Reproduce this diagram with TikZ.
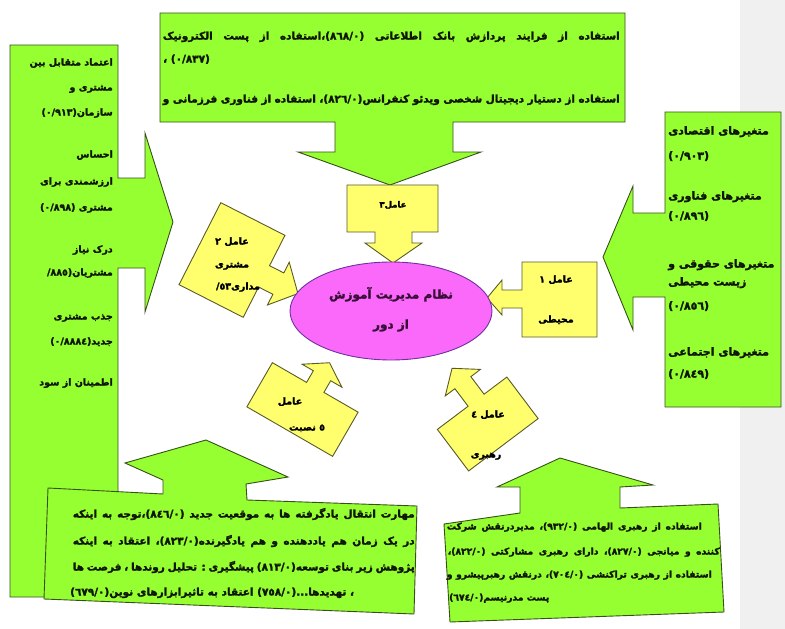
\documentclass[tikz,border=0pt]{standalone}
\usepackage{fontspec}
\usetikzlibrary{shapes.geometric}
\TeXXeTstate=1
\newfontfamily\fa[Script=Arabic,BoldFeatures={FakeBold=2}]{DejaVu Sans}
\newcommand\myR[1]{\beginR#1\endR}
\newcommand\myL[1]{\beginL#1\endL{}}
\definecolor{gfill}{RGB}{150,255,50}
\definecolor{gline}{RGB}{55,80,25}
\definecolor{yfill}{RGB}{255,255,110}
\definecolor{yline}{RGB}{90,90,40}
\definecolor{efill}{RGB}{250,105,250}
\definecolor{eline}{RGB}{112,48,160}
\definecolor{gtext}{RGB}{15,22,5}
\begin{document}
\begin{tikzpicture}[x=1pt,y=-1pt,
  gshape/.style={fill=gfill,draw=gline,line width=0.9pt,line join=miter},
  yshape/.style={fill=yfill,draw=yline,line width=0.9pt},
  ln/.style={inner sep=0pt,text height=8pt,text depth=3pt,text=gtext,font=\fa\bfseries\fontsize{9.5}{11}\selectfont},
  lnt/.style={ln,font=\fa\bfseries\fontsize{10.5}{13}\selectfont},
  lnr/.style={ln,font=\fa\bfseries\fontsize{11}{13}\selectfont},
  lnb/.style={ln,font=\fa\bfseries\fontsize{10.5}{12}\selectfont},
  lnc/.style={ln,font=\fa\bfseries\fontsize{9.2}{11}\selectfont},
  yl/.style={ln,text=black,font=\fa\bfseries\fontsize{9.5}{11}\selectfont},
  el/.style={yl,font=\fa\bfseries\fontsize{12}{14}\selectfont,text={rgb,255:red,55;green,15;blue,55}}]
\useasboundingbox (0,0) rectangle (785,629);
\fill[white] (0,0) rectangle (785,629);
\fill[black!6] (740,0) rectangle (785,629);

% top callout
\draw[gshape] (160,13) -- (625,13) -- (625,122) -- (453,122) -- (453,152) -- (481,152) -- (390,185) -- (298,152) -- (335,152) -- (335,122) -- (160,122) -- cycle;
% left callout
\draw[gshape] (10,45) -- (118,45) -- (118,178) -- (145,178) -- (145,133) -- (173,222) -- (145,312) -- (145,268) -- (118,268) -- (118,597) -- (10,597) -- cycle;
% right callout
\draw[gshape] (665,112) -- (781,112) -- (781,407) -- (665,407) -- (665,297) -- (633,297) -- (633,330) -- (603,257) -- (633,186) -- (633,213) -- (665,213) -- cycle;
% bottom-left callout
\draw[gshape] (48,488) -- (163,494) -- (163,480) -- (125,463) -- (206,440) -- (288,477) -- (246,484) -- (247,500) -- (417,506) -- (414,614) -- (44,599) -- cycle;
% bottom-right callout
\draw[gshape] (444,524) -- (520,513) -- (520,487) -- (497,487) -- (560,458) -- (653,485) -- (620,487) -- (620,508) -- (718,504) -- (724,612) -- (450,622) -- cycle;

% yellow boxes
\draw[yshape] (347,185) -- (438,185) -- (438,232) -- (412,232) -- (412,243) -- (422,243) -- (393,263) -- (365,243) -- (375,243) -- (375,232) -- (347,232) -- cycle;
\draw[yshape] (522,262) -- (597,262) -- (597,337) -- (522,337) -- (522,308) -- (502,308) -- (502,315) -- (487,298) -- (502,280) -- (502,290) -- (522,290) -- cycle;
\begin{scope}[shift={(232,260)},rotate=-27]
\draw[yshape] (-36,-46) -- (36,-46) -- (36,-12) -- (52,-12) -- (52,-24) -- (74,0) -- (52,24) -- (52,12) -- (36,12) -- (36,46) -- (-36,46) -- cycle;
\end{scope}
\begin{scope}[shift={(302.5,409.5)},rotate=-30]
\draw[yshape] (-49.5,-25.5) -- (-10,-25.5) -- (-10,-39) -- (-23,-39) -- (0,-54) -- (23,-39) -- (10,-39) -- (10,-25.5) -- (49.5,-25.5) -- (49.5,25.5) -- (-49.5,25.5) -- cycle;
\end{scope}
\begin{scope}[shift={(487.75,424)},rotate=37]
\draw[yshape] (-43.5,-26) -- (-5,-26) -- (-5,-48) -- (-17,-48) -- (5,-66) -- (27,-48) -- (15,-48) -- (15,-26) -- (43.5,-26) -- (43.5,26) -- (-43.5,26) -- cycle;
\end{scope}

% ellipse
\node[ellipse,draw=eline,fill=efill,line width=0.9pt,minimum width=202pt,minimum height=98pt,inner sep=0pt] (sys) at (391,311) {};
\node[el] (s1) at (391,296) {\myR{نظام مدیریت آموزش}};
\node[el] (s2) at (391,326) {\myR{از دور}};

% yellow texts
\node[yl,font=\fa\bfseries\fontsize{8.5}{10}\selectfont] (f3) at (393,205) {\myR{عامل٣}};
\node[yl] (f1a) at (556,280) {\myR{عامل ١}};
\node[yl] (f1b) at (556,320) {\myR{محیطی}};
\node[yl] (f2a) at (232,242) {\myR{عامل ٢}};
\node[yl] (f2b) at (232,265) {\myR{مشتری}};
\node[yl] (f2c) at (238,287) {\myR{مداری٥٣/}};
\node[yl] (f5a) at (290,402) {\myR{عامل}};
\node[yl] (f5b) at (307,428) {\myR{٥ نصبت}};
\node[yl] (f4a) at (488,415) {\myR{عامل ٤}};
\node[yl] (f4b) at (486,455) {\myR{رهبری}};

% top text
\node[lnt,anchor=east] (t1) at (620,37) {\makebox[457pt][s]{\myR{استفاده از فرایند پردازش بانک اطلاعاتی \myL{(٨٦٨/٠)}،استفاده از پست الکترونیک}}};
\node[lnt,anchor=west] (t2) at (163,60) {\myR{\myL{(٠/٨٣٧)} ،}};
\node[lnt,anchor=east] (t3) at (620,100) {\makebox[457pt][s]{\myR{استفاده از دستیار دیجیتال شخصی ویدئو کنفرانس\myL{(٨٢٦/٠)}، استفاده از فناوری فرزمانی و}}};

% left text
\node[ln,anchor=east] (l1) at (113,63) {\myR{اعتماد متقابل بین}};
\node[ln,anchor=east] (l2) at (113,88) {\myR{مشتری و}};
\node[ln,anchor=east] (l3) at (113,113) {\myR{سازمان\myL{(٠/٩١٣)}}};
\node[ln,anchor=east] (l4) at (113,155) {\myR{احساس}};
\node[ln,anchor=east] (l5) at (113,182) {\myR{ارزشمندی برای}};
\node[ln,anchor=east] (l6) at (113,208) {\myR{مشتری \myL{(٠/٨٩٨)}}};
\node[ln,anchor=east] (l7) at (113,250) {\myR{درک نیاز}};
\node[ln,anchor=east] (l8) at (113,273) {\myR{مشتریان\myL{(٨٨٥/}}};
\node[ln,anchor=east] (l9) at (113,317) {\myR{جذب مشتری}};
\node[ln,anchor=east] (l10) at (113,342) {\myR{جدید\myL{(٠/٨٨٨٤)}}};
\node[ln,anchor=east] (l11) at (113,383) {\myR{اطمینان از سود}};

% right text
\node[lnr,anchor=west] (r1) at (668,132) {\myR{متغیرهای اقتصادی}};
\node[lnr,anchor=west] (r2) at (668,157) {\myL{(٠/٩٠٣)}};
\node[lnr,anchor=west] (r3) at (668,197) {\myR{متغیرهای  فناوری}};
\node[lnr,anchor=west] (r4) at (668,217) {\myL{(٠/٨٩٦)}};
\node[lnr,anchor=west] (r5) at (668,265) {\myR{متغیرهای حقوقی و}};
\node[lnr,anchor=west] (r6) at (668,283) {\myR{زیست محیطی}};
\node[lnr,anchor=west] (r7) at (668,307) {\myL{(٠/٨٥٦)}};
\node[lnr,anchor=west] (r8) at (668,353) {\myR{متغیرهای اجتماعی}};
\node[lnr,anchor=west] (r9) at (668,375) {\myL{(٠/٨٤٩)}};

% bottom-left text
\node[lnb,anchor=east] (b1) at (415,515) {\makebox[342pt][s]{\myR{مهارت انتقال یادگرفته ها به موقعیت جدید \myL{(٨٤٦/٠)}،توجه به اینکه}}};
\node[lnb,anchor=east] (b2) at (415,542) {\makebox[342pt][s]{\myR{در یک زمان هم یاددهنده و هم یادگیرنده\myL{(٨٢٣/٠)}، اعتقاد به اینکه}}};
\node[lnb,anchor=east] (b3) at (415,568) {\makebox[342pt][s]{\myR{پژوهش زیر بنای توسعه\myL{(٨١٣/٠)} پیشگیری : تحلیل روندها ، فرصت ها}}};
\node[lnb,anchor=west] (b4) at (70,593) {\myR{، تهدیدها...\myL{(٧٥٨/٠)} اعتقاد به تاثیرابزارهای نوین\myL{(٦٧٩/٠)}}};

% bottom-right text
\node[lnc,anchor=east] (c1) at (702,527) {\makebox[255pt][s]{\myR{استفاده از رهبری الهامی \myL{(٩٣٢/٠)}، مدیردرنقش شرکت}}};
\node[lnc,anchor=east] (c2) at (720,552) {\makebox[272pt][s]{\myR{کننده و میانجی \myL{(٨٢٧/٠)}، دارای رهبری مشارکتی \myL{(٨٢٢/٠)}،}}};
\node[lnc,anchor=east] (c3) at (712,575) {\makebox[265pt][s]{\myR{استفاده از رهبری تراکنشی \myL{(٧٠٤/٠)}، درنقش رهبرپیشرو و}}};
\node[lnc,anchor=west] (c4) at (449,598) {\myR{پست مدرنیسم\myL{(٦٧٤/٠)}}};
\end{tikzpicture}
\end{document}
